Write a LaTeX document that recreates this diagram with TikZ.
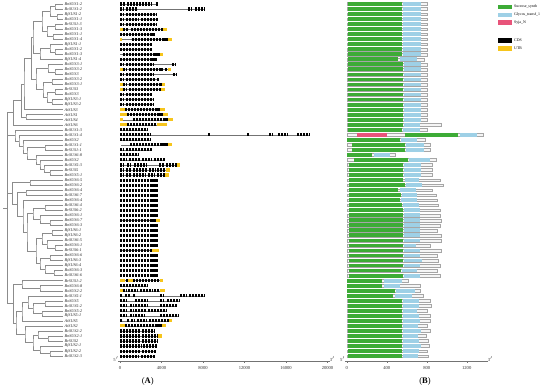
\documentclass[tikz,border=0pt]{standalone}
\usepackage{fontspec}
\setmainfont{Liberation Serif}
\usepackage{tikz}
\usetikzlibrary{calc}

\definecolor{synthgreen}{RGB}{61,171,54}
\definecolor{glycblue}{RGB}{158,208,230}
\definecolor{syjapink}{RGB}{232,84,122}
\definecolor{utryellow}{RGB}{246,197,28}

% internal node of the tree: name, x, upper child, lower child
\newcommand{\clade}[4]{%
  \path let \p1=(#3), \p2=(#4) in coordinate (#1) at (#2pt,{0.5*(\y1+\y2)});
  \draw[branch] (#3) -| (#1) |- (#4);}

% protein bar: row, length end, green from/to, blue from/to
\newcommand{\dombar}[6]{%
  \pgfmathsetmacro\yy{4+(#1-1)*5.03}
  \draw[prot] (346.7,{\yy-1.4}) rectangle (#2,{\yy+1.4});
  \fill[synthgreen] (#3,{\yy-1.9}) rectangle (#4,{\yy+1.9});
  \fill[glycblue] (#5,{\yy-1.9}) rectangle (#6,{\yy+1.9});}

\begin{document}
\begin{tikzpicture}[
            x=1pt,
            y=-1pt,
            branch/.style={
                draw=black!45,
                line width=0.4pt
            },
            gname/.style={
                anchor=west,
                inner sep=0pt,
                font=\fontsize{4.2}{4.2}\selectfont\itshape,
                text=black!85
            },
            intron/.style={
                draw=black!55,
                line width=0.35pt
            },
            cds/.style={
                draw=black,
                line width=3.1pt,
                dash pattern=on 2.4pt off 0.55pt
            },
            utr/.style={
                draw=utryellow,
                line width=3.1pt
            },
            prot/.style={
                draw=black!35,
                fill=black!4,
                line width=0.3pt
            },
            axis/.style={
                draw=black!55,
                line width=0.4pt
            },
            ticklab/.style={
                font=\fontsize{4.6}{4.6}\selectfont,
                text=black!80,
                inner sep=0.5pt
            },
            leglab/.style={
                anchor=west,
                font=\fontsize{3.9}{3.9}\selectfont,
                inner sep=0pt
            },
            panlab/.style={
                font=\fontsize{8.5}{8.5}\selectfont
            }
        ]
        \useasboundingbox (0,0) rectangle (550,389);

            % Leaves and gene names
            \foreach \r/\lab in {1/BnSUS1-2,2/BcSUS1-2,3/BjSUS1-2,4/BoSUS1-1,5/BrSUS1-3,
                6/BnSUS1-3,7/BnSUS1-1,8/BnSUS1-4,9/BjSUS1-1,10/BoSUS1-2,11/BoSUS1-3,
                12/BjSUS1-4,13/BoSUS3-1,14/BnSUS3-2,15/BnSUS3,16/BoSUS3-2,17/BnSUS3-1,
                18/BrSUS3,19/BoSUS3,20/BjSUS3-1,21/BjSUS3-2,22/AtSUS3,23/AtSUS1,
                24/AtSUS4,25/AtSUS6,26/BcSUS1-3,27/BcSUS1-4,28/BnSUS2,29/BcSUS1-1,
                30/BrSUS1-1,31/BcSUS6-8,32/BoSUS2,33/BcSUS5-3,34/BrSUS5,35/BnSUS5-1,
                36/BnSUS6-5,37/BnSUS6-2,38/BoSUS6-4,39/BcSUS6-7,40/BnSUS6-4,
                41/BcSUS6-4,42/BrSUS6-2,43/BoSUS6-1,44/BnSUS6-7,45/BnSUS6-3,
                46/BjSUS6-1,47/BjSUS6-2,48/BcSUS6-5,49/BnSUS6-1,50/BrSUS6-1,
                51/BnSUS6-6,52/BjSUS6-3,53/BjSUS6-4,54/BoSUS6-3,55/BcSUS6-6,
                56/BrSUS1-2,57/BnSUS6-8,58/BoSUS2-2,59/BcSUS5-1,60/BoSUS5,
                61/BcSUS5-2,62/BnSUS5-2,63/BjSUS5-1,64/AtSUS5,65/AtSUS2,
                66/BcSUS2-2,67/BnSUS2-1,68/BrSUS2,69/BjSUS2-1,70/BjSUS2-2,71/BcSUS2-3}{
                \pgfmathsetmacro\yy{4+(\r-1)*5.03}
                \coordinate (l\r) at (63,\yy);
                \node[gname] (g\r) at (64.5,\yy) {\lab};
            }

            % SUS1 clade
            \clade{a1}{55}{l1}{l2}
            \clade{a2}{57}{l3}{l4}
            \clade{a3}{50}{a1}{a2}
            \clade{a4}{55}{l5}{l6}
            \clade{a5}{53}{l7}{l8}
            \clade{a6}{47}{a4}{a5}
            \clade{a7}{42}{a3}{a6}
            \clade{a8}{55}{l10}{l11}
            \clade{a9}{50}{l9}{a8}
            \clade{a10}{40}{a9}{l12}
            \clade{sa}{33}{a7}{a10}
            % SUS3 clade
            \clade{b1}{55}{l14}{l15}
            \clade{b2}{48}{l13}{b1}
            \clade{b3}{52}{l16}{l17}
            \clade{b4}{55}{l18}{l19}
            \clade{b5}{52}{l20}{l21}
            \clade{b6}{47}{b4}{b5}
            \clade{b7}{43}{b3}{b6}
            \clade{sb}{36}{b2}{b7}
            \clade{u1}{30.7}{sa}{sb}
            \clade{u2}{24}{u1}{l22}
            \clade{u3}{26}{l23}{l24}
            \clade{u4}{20.7}{u2}{u3}
            \clade{up}{12.7}{u4}{l25}
            % second group
            \clade{v1}{50}{l34}{l35}
            \clade{v2}{44}{l33}{v1}
            \clade{v3}{40}{l32}{v2}
            \clade{v4}{36}{l31}{v3}
            \clade{v5}{45}{l29}{l30}
            \clade{v6}{27}{v5}{v4}
            \clade{v7}{23}{l28}{v6}
            \clade{v8}{19}{l27}{v7}
            \clade{vg}{15}{l26}{v8}
            % SUS6 clade
            \clade{s1}{30}{l36}{l37}
            \clade{s2}{26}{l38}{l39}
            \clade{s3}{45}{l41}{l42}
            \clade{s4}{50}{l44}{l45}
            \clade{s5}{40}{l43}{s4}
            \clade{s6}{33}{s3}{s5}
            \clade{s7}{52}{l46}{l47}
            \clade{s8}{55}{l49}{l50}
            \clade{s9}{47}{l48}{s8}
            \clade{s10}{42}{s7}{s9}
            \clade{s11}{50}{l51}{l52}
            \clade{s12}{54}{l54}{l55}
            \clade{s13}{45}{l53}{s12}
            \clade{s14}{40}{s11}{s13}
            \clade{s15}{36}{s10}{s14}
            \clade{s16}{27}{s6}{s15}
            \clade{s17}{23}{l40}{s16}
            \clade{s18}{16.7}{s2}{s17}
            \clade{sg}{11.7}{s1}{s18}
            % SUS5 and SUS2 clades
            \clade{w1}{40}{l57}{l58}
            \clade{w2}{22}{l56}{w1}
            \clade{w3}{45}{l60}{l61}
            \clade{w4}{42}{l62}{l63}
            \clade{w5}{33}{w3}{w4}
            \clade{w6}{28}{l59}{w5}
            \clade{w7}{22}{w6}{l64}
            \clade{w8}{48}{l67}{l68}
            \clade{w9}{38}{l66}{w8}
            \clade{w10}{50}{l70}{l71}
            \clade{w11}{40}{l69}{w10}
            \clade{w12}{33}{w9}{w11}
            \clade{w13}{25}{l65}{w12}
            \clade{w14}{16}{w7}{w13}
            \clade{lw}{12.7}{w2}{w14}
            % Root
            \clade{root}{7.3}{up}{lw}
            \draw[branch] (vg) -- (vg -| root);
            \draw[branch] (sg) -- (sg -| root);
            \coordinate (rootend) at ($(root)+(-4.3,0)$);
            \draw[branch] (root) -- (rootend);

            % Gene structures
            \foreach \r/\gs/\ge/\segs in {
                1/120/158/{cds/120/125,cds/127/152,cds/155.5/158},
                2/120/205/{cds/120/124,cds/126/137,cds/188/191,cds/195/205},
                3/120/156/{cds/120/124,cds/126/156},
                4/120/158/{cds/120/124,cds/126/138,cds/141/158},
                5/120/157/{cds/120/124,cds/126/157},
                6/120/167/{utr/120/123,cds/123/128,cds/131/163,utr/163/167},
                7/120/155/{cds/120/155},
                8/120/172/{utr/120/122,cds/132/168,utr/168/172},
                9/120/152/{cds/120/152},
                10/120/152/{cds/120/152},
                11/120/163/{cds/123/160,utr/160/163},
                12/120/157/{cds/120/157},
                13/120/175/{cds/120/124,cds/126/153,cds/172/175},
                14/120/171/{utr/120/123,cds/123/127,cds/129/163,cds/165/168,utr/168/171},
                15/120/176/{cds/120/124,cds/126/153,cds/173/176},
                16/120/159/{cds/120/124,cds/126/155,cds/157/159},
                17/120/165/{utr/120/123,cds/123/127,cds/129/162,utr/162/165},
                18/120/165/{utr/120/123,cds/123/127,cds/129/161,utr/161/165},
                19/120/152/{cds/120/124,cds/126/152},
                20/120/153/{cds/120/124,cds/126/153},
                21/120/153/{cds/120/124,cds/126/153},
                22/120/165/{utr/120/125,cds/125/160,utr/160/165},
                23/120/168/{utr/120/127,cds/127/163,utr/163/168},
                24/120/173/{utr/120/123,cds/133/168,utr/168/173},
                25/120/167/{utr/120/127,cds/127/157,utr/157/167},
                26/120/148/{cds/120/148},
                27/120/310/{cds/120/151,cds/208/209.5,cds/247/248.5,cds/269/272,cds/278/287,cds/297/310},
                28/120/150/{cds/120/150},
                29/121/172/{cds/130/168,utr/168/172},
                30/120/152/{cds/120/124,cds/126/152},
                31/120/138/{cds/120/138},
                32/120/165/{cds/120/127,cds/129/140,cds/142/152,cds/154/165},
                33/120/180/{cds/120/124,cds/127/131,cds/134/147,cds/159/164,cds/166/177,utr/177/180},
                34/120/170/{cds/120/124,cds/126/131,cds/133/147,cds/149/155,cds/157/166,utr/166/170},
                35/120/169/{cds/120/124,cds/126/131,cds/133/146,cds/148/155,cds/157/165,utr/165/169},
                44/120/160/{cds/120/156,utr/156/160},
                50/120/159/{cds/120/152,utr/152/159},
                56/120/163/{utr/120/125,cds/126/128,utr/128/133,cds/133/160,utr/160/163},
                57/120/148/{cds/120/148},
                58/120/165/{utr/120/123,cds/123/126,cds/128/138,cds/140/152,cds/154/160,utr/160/165},
                59/120/205/{cds/120/122,cds/125/130,cds/133/135,cds/160/163,cds/180/186,cds/189/205},
                60/120/180/{cds/120/127,cds/135/147,cds/160/164,cds/167/180},
                61/120/177/{cds/120/127,cds/130/133,cds/135/147,cds/160/177},
                62/120/167/{cds/120/127,cds/130/133,cds/135/146,cds/148/167},
                63/120/178/{cds/120/127,cds/130/133,cds/135/145,cds/160/178},
                64/120/172/{cds/120/122,cds/127/129,cds/131/134,cds/137/147,cds/149/169,utr/169/172},
                65/120/166/{utr/120/125,cds/125/162,utr/162/166},
                66/120/155/{cds/120/140,cds/142/155},
                67/120/162/{cds/120/140,cds/142/158,utr/158/162},
                68/120/157/{cds/120/140,cds/142/157},
                69/120/157/{cds/120/141,cds/143/157},
                70/120/156/{cds/120/140,cds/142/156},
                71/120/155/{cds/120/139,cds/141/155}}{
                \pgfmathsetmacro\yy{4+(\r-1)*5.03}
                \draw[intron] (\gs,\yy) -- (\ge,\yy);
                \foreach \k/\a/\b in \segs {\draw[\k] (\a,\yy) -- (\b,\yy);}
            }
            \foreach \r in {36,...,43,45,46,47,48,49,51,52,53,54,55}{
                \pgfmathsetmacro\yy{4+(\r-1)*5.03}
                \draw[cds] (120,\yy) -- (158,\yy);
            }

            % Protein domains
            \foreach \r in {1,...,11}{\dombar{\r}{427}{348.3}{401.7}{403.3}{420.7}}
            \dombar{12}{424}{348.3}{398.3}{400}{417.3}
            \foreach \r in {13,...,24}{\dombar{\r}{427.3}{348.3}{402.7}{404}{420.7}}
            \dombar{25}{440.7}{348.3}{402.7}{404}{420}
            \dombar{26}{427.3}{348.3}{401.7}{403.3}{420}
            \dombar{28}{425}{347.3}{400}{401}{417.3}
            \foreach \r in {29,30}{\dombar{\r}{430}{351.7}{405}{406}{424}}
            \dombar{31}{395}{347}{371.7}{374}{390}
            \dombar{32}{436}{354}{408}{409}{430}
            \foreach \r in {33,34,35}{\dombar{\r}{431.7}{349}{402.7}{404}{420.7}}
            \dombar{36}{440}{349}{403.3}{405}{419.3}
            \dombar{37}{443}{349}{405}{406}{421.7}
            \dombar{38}{432}{349}{398.3}{400}{416}
            \dombar{39}{436}{349}{400.7}{401.7}{417.3}
            \dombar{40}{437}{349}{400}{401.3}{417.3}
            \dombar{41}{438}{349}{401.7}{402.7}{419.3}
            \foreach \r/\e in {42/440,43/440,44/440.7,45/440,46/436.7,47/440.7,48/440.7,
                50/440.7,51/436.7,53/440,55/440}{\dombar{\r}{\e}{349}{402.7}{404}{420}}
            \dombar{49}{430}{349}{402.7}{404}{416}
            \dombar{52}{438}{349}{402.7}{404}{421.7}
            \dombar{54}{436.7}{349}{400.7}{402}{417.3}
            \dombar{56}{408}{347.3}{382.3}{384}{401.7}
            \dombar{57}{420}{347.3}{382.3}{384}{400}
            \dombar{58}{420}{347.3}{395}{396}{415}
            \dombar{59}{423}{347.3}{393}{395}{412}
            \foreach \r/\e/\b in {60/430/419.3,61/431/419,62/427/417,63/430/419.3,
                64/430/420,65/427/418,66/430/421,67/426/418,68/428/419,69/429/420.7,
                70/427/419,71/428/418}{\dombar{\r}{\e}{348.3}{401.7}{403}{\b}}
            % the long protein with Syja_N
            \pgfmathsetmacro\yy{4+26*5.03}
            \draw[prot] (346.7,{\yy-1.4}) rectangle (483,{\yy+1.4});
            \fill[syjapink] (356.7,{\yy-1.9}) rectangle (386.7,{\yy+1.9});
            \fill[synthgreen] (405,{\yy-1.9}) rectangle (458,{\yy+1.9});
            \fill[glycblue] (460,{\yy-1.9}) rectangle (477,{\yy+1.9});

            % Axis of panel A
            \draw[axis] (118.3,361) -- (330,361);
            \foreach \v in {2,6,...,18}{\draw[axis] ({120+\v*10.375},361) -- ({120+\v*10.375},362);}
            \foreach \v/\t in {0/0,4/4000,8/8000,12/12000,16/16000,20/20000}{
                \draw[axis] ({120+\v*10.375},361) -- ({120+\v*10.375},362.6);
                \node[ticklab] (ta\v) at ({120+\v*10.375},367.5) {\t};
            }
            \node[ticklab] (a5p) at (116,359.5) {5$'$};
            \node[ticklab] (a3p) at (332.3,359.5) {3$'$};

            % Axis of panel B
            \draw[axis] (345,361) -- (488.3,361);
            \foreach \v in {200,600,1000}{\draw[axis] ({346.7+\v*0.1},361) -- ({346.7+\v*0.1},362);}
            \foreach \v in {0,400,800,1200}{
                \draw[axis] ({346.7+\v*0.1},361) -- ({346.7+\v*0.1},362.6);
                \node[ticklab] (tb\v) at ({346.7+\v*0.1},367.5) {\v};
            }
            \node[ticklab] (b5p) at (342.7,359.5) {5$'$};
            \node[ticklab] (b3p) at (490.3,359.5) {3$'$};

            % Panel labels
            \node[panlab] (pa) at (147.7,381) {(\textbf{A})};
            \node[panlab] (pb) at (425,381) {(\textbf{B})};

            % Legend
            \fill[synthgreen] (498,4.7) rectangle (512,9.3);
            \node[leglab] (leg1) at (514,7) {Sucrose\_synth};
            \fill[glycblue] (498,12.7) rectangle (512,17.3);
            \node[leglab] (leg2) at (514,15) {Glycos\_transf\_1};
            \fill[syjapink] (498,20) rectangle (512,24.7);
            \node[leglab] (leg3) at (514,22.3) {Syja\_N};
            \fill[black] (498,38) rectangle (512,43.3);
            \node[leglab] (leg4) at (514,40.7) {CDS};
            \fill[utryellow] (498,45.7) rectangle (512,50.7);
            \node[leglab] (leg5) at (514,48.2) {UTR};

\end{tikzpicture}
\end{document}
